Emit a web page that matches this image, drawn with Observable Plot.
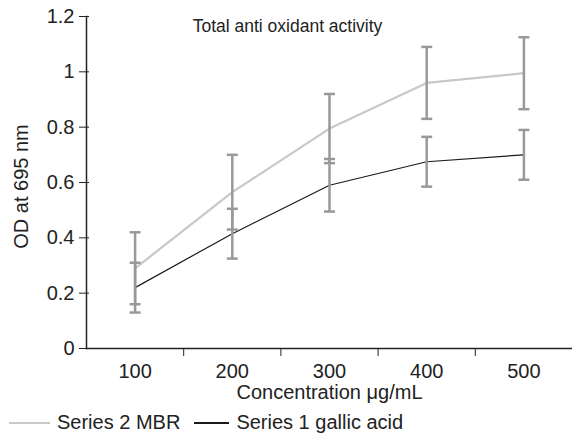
<!DOCTYPE html>
<html>
<head>
<meta charset="utf-8">
<script src="https://cdn.jsdelivr.net/npm/d3@7"></script>
<script src="https://cdn.jsdelivr.net/npm/@observablehq/plot@0.6"></script>
<style>
  html, body { margin: 0; padding: 0; background: #fff; }
  body { width: 572px; height: 440px; overflow: hidden; font-family: "Liberation Sans", Arial, sans-serif; }
  #legend { display: flex; align-items: center; height: 35px; font-size: 20px; color: #222; margin-left: 9px; margin-top: 0px; }
  #legend .item { display: flex; align-items: center; margin-right: 14px; }
  #legend .sw { display: inline-block; width: 41px; margin-right: 7px; }
  #legend .item + .item .sw { width: 35px; }
</style>
</head>
<body>
<div id="chart"></div>
<div id="legend"></div>
<script>
const concentrations = [100, 200, 300, 400, 500];
const mbrValues = [0.29, 0.565, 0.795, 0.96, 0.995];
const mbrErrors = [0.13, 0.135, 0.125, 0.13, 0.13];
const gallicValues = [0.22, 0.415, 0.59, 0.675, 0.70];
const gallicErrors = [0.09, 0.09, 0.095, 0.09, 0.09];
const yTicks = [0, 0.2, 0.4, 0.6, 0.8, 1, 1.2];
const seriesNames = ["Series 2 MBR", "Series 1 gallic acid"];
const seriesColors = ["#c8c8c8", "#1a1a1a"];
const errColor = "#999999";

const mbr = concentrations.map((c, i) => ({c, v: mbrValues[i], e: mbrErrors[i]}));
const gallic = concentrations.map((c, i) => ({c, v: gallicValues[i], e: gallicErrors[i]}));
const boundaries = concentrations.slice(1).map((c, i) => (c + concentrations[i]) / 2);
const step = concentrations[1] - concentrations[0];

const cap = { draw(ctx, size) { const w = Math.sqrt(size); ctx.moveTo(-w / 2, 0); ctx.lineTo(w / 2, 0); } };

function errorMarks(data) {
  return [
    Plot.ruleX(data, {x: "c", y1: d => d.v - d.e, y2: d => d.v + d.e, stroke: errColor, strokeWidth: 2.5}),
    Plot.dot(data, {x: "c", y: d => d.v - d.e, symbol: cap, r: 6.2, stroke: errColor, strokeWidth: 2.5, fill: "none"}),
    Plot.dot(data, {x: "c", y: d => d.v + d.e, symbol: cap, r: 6.2, stroke: errColor, strokeWidth: 2.5, fill: "none"})
  ];
}

const chart = Plot.plot({
  width: 572,
  height: 405,
  marginTop: 16,
  marginBottom: 57,
  marginLeft: 86,
  marginRight: 0,
  style: { fontFamily: '"Liberation Sans", Arial, sans-serif', fontSize: "20px", color: "#222", background: "#fff" },
  x: { type: "linear", domain: [concentrations[0] - step / 2, concentrations[concentrations.length - 1] + step / 2] },
  y: { domain: [0, 1.2] },
  marks: [
    Plot.frame({anchor: "left", stroke: "#222", strokeWidth: 1.5}),
    Plot.frame({anchor: "bottom", stroke: "#222", strokeWidth: 1.5}),
    Plot.axisY({ticks: yTicks, tickSize: 7, tickPadding: 5, tickFormat: d => String(d), label: null, fontSize: 20, stroke: "#222"}),
    Plot.axisY({ticks: yTicks, tickSize: 3, dx: 3, text: null, label: null, stroke: "#222"}),
    Plot.axisX({ticks: boundaries, tickSize: 8, text: null, label: null, stroke: "#222"}),
    Plot.axisX({ticks: concentrations, tickSize: 0, tickPadding: 15, tickFormat: d => String(d), label: null, fontSize: 20}),
    Plot.text(["Concentration μg/mL"], {frameAnchor: "bottom", lineAnchor: "middle", dy: 44, fontSize: 20, fill: "#222"}),
    Plot.text(["OD at 695 nm"], {frameAnchor: "left", textAnchor: "middle", lineAnchor: "middle", rotate: -90, dx: -65, dy: 4, fontSize: 20, fill: "#222"}),
    Plot.text(["Total anti oxidant activity"], {frameAnchor: "top", lineAnchor: "middle", dx: -42, dy: 10, fontSize: 17.5, fill: "#222"}),
    Plot.line(mbr, {x: "c", y: "v", stroke: seriesColors[0], strokeWidth: 2.2}),
    Plot.line(gallic, {x: "c", y: "v", stroke: seriesColors[1], strokeWidth: 1.2}),
    ...errorMarks(mbr),
    ...errorMarks(gallic)
  ]
});
document.getElementById("chart").appendChild(chart);

const legend = document.getElementById("legend");
seriesNames.forEach((name, i) => {
  const item = document.createElement("div");
  item.className = "item";
  const sw = document.createElement("span");
  sw.className = "sw";
  sw.style.borderTop = (i === 0 ? 2.5 : 2) + "px solid " + seriesColors[i];
  item.appendChild(sw);
  const t = document.createElement("span");
  t.textContent = name;
  item.appendChild(t);
  legend.appendChild(item);
});
</script>
</body>
</html>
